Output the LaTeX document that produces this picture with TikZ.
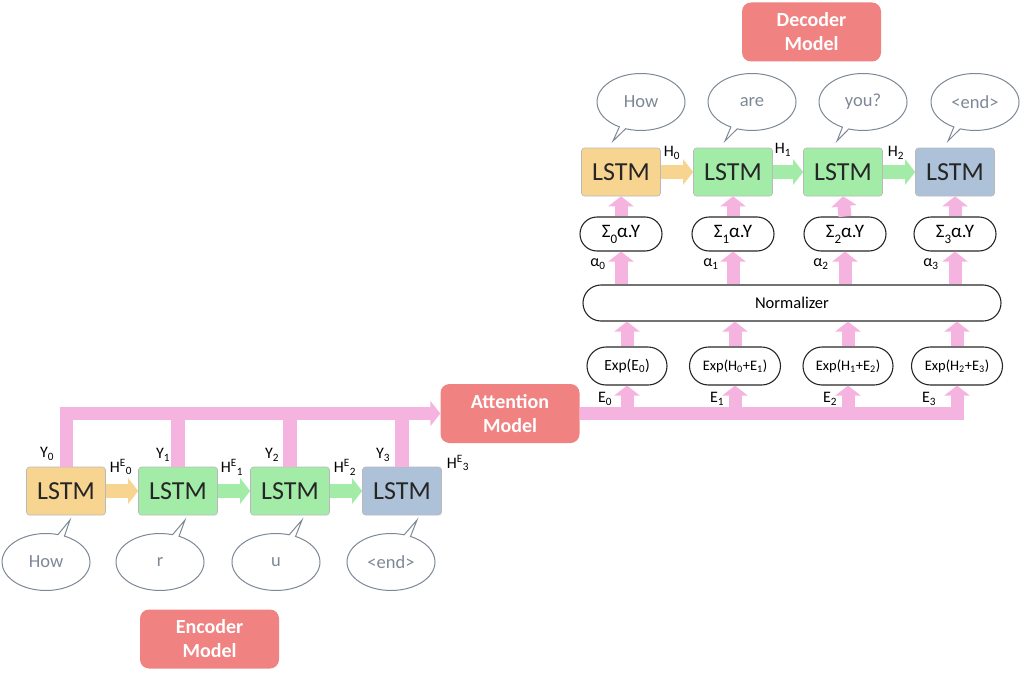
\documentclass[tikz,border=0pt]{standalone}
\usepackage{fontspec}
\setmainfont{Carlito}
\usetikzlibrary{arrows.meta,shapes.misc,shapes.callouts}
\definecolor{lstmorange}{RGB}{248,212,145}
\definecolor{lstmgreen}{RGB}{162,236,168}
\definecolor{lstmblue}{RGB}{173,194,216}
\definecolor{flowpink}{RGB}{245,180,224}
\definecolor{modelred}{RGB}{240,130,130}
\definecolor{bubblegray}{RGB}{125,136,150}
\newcommand{\sumsub}[1]{Σ\raisebox{-0.32em}{\fontsize{13}{13}\selectfont #1}α.Y}
\tikzset{
  lstm/.style={draw=gray!55, line width=0.6pt, rounded corners=3pt, minimum width=79pt, minimum height=48pt, inner sep=0pt, font=\fontsize{26}{26}\selectfont, text=black!85},
  model/.style={fill=modelred, rounded corners=9pt, minimum width=139pt, minimum height=59pt, inner sep=0pt, text=white, align=center, font=\fontsize{20}{24}\selectfont\bfseries},
  bubble/.style={ellipse callout, draw=bubblegray, line width=1pt, callout pointer arc=9, minimum width=88pt, minimum height=57pt, inner sep=0pt, text=bubblegray, font=\fontsize{18.5}{18.5}\selectfont},
  calc/.style={rounded rectangle, draw=black!85, line width=1.1pt, minimum height=36pt, inner sep=0pt},
  flow/.style={draw=flowpink, line width=13pt, -{Triangle[width=25pt,length=10pt]}},
  stem/.style={draw=flowpink, line width=14pt},
  pass/.style={line width=14pt, -{Triangle[width=25pt,length=10pt]}},
  lbl/.style={inner sep=0pt, font=\fontsize{16}{16}\selectfont}
}
\begin{document}
\begin{tikzpicture}[x=1pt,y=-1pt]
\useasboundingbox (0,0) rectangle (1022,677);

\node[model] (att) at (510,413.5) {Attention\\Model};
\node[model] (decm) at (811.5,32) {Decoder\\Model};
\node[model] (encm) at (209.5,639) {Encoder\\Model};

\node[lstm, fill=lstmorange] (enc0) at (66,491) {LSTM};
\node[lstm, fill=lstmgreen] (enc1) at (178,491) {LSTM};
\node[lstm, fill=lstmgreen] (enc2) at (290,491) {LSTM};
\node[lstm, fill=lstmblue] (enc3) at (402,491) {LSTM};

\node[lstm, fill=lstmorange] (dec0) at (621,172) {LSTM};
\node[lstm, fill=lstmgreen] (dec1) at (733,172) {LSTM};
\node[lstm, fill=lstmgreen] (dec2) at (843,172) {LSTM};
\node[lstm, fill=lstmblue] (dec3) at (955,172) {LSTM};

\node[bubble, callout absolute pointer={(70,520)}] (win0) at (46,562) {How};
\node[bubble, callout absolute pointer={(185,520)}] (win1) at (160,562) {r};
\node[bubble, callout absolute pointer={(302,520)}] (win2) at (276,562) {u};
\node[bubble, callout absolute pointer={(417,520)}] (win3) at (391,562) {<end>};

\node[bubble, callout absolute pointer={(613,141)}] (wout0) at (641,102) {How};
\node[bubble, callout absolute pointer={(725,141)}] (wout1) at (752,102) {are};
\node[bubble, callout absolute pointer={(837,141)}] (wout2) at (863,102) {you?};
\node[bubble, callout absolute pointer={(948,141)}] (wout3) at (975,102) {<end>};

\node[calc, minimum width=82pt, minimum height=34pt, font=\fontsize{19}{19}\selectfont] (sum0) at (621,234) {\sumsub{0}};
\node[calc, minimum width=82pt, minimum height=34pt, font=\fontsize{19}{19}\selectfont] (sum1) at (733,234) {\sumsub{1}};
\node[calc, minimum width=82pt, minimum height=34pt, font=\fontsize{19}{19}\selectfont] (sum2) at (845,234) {\sumsub{2}};
\node[calc, minimum width=82pt, minimum height=34pt, font=\fontsize{19}{19}\selectfont] (sum3) at (955,234) {\sumsub{3}};

\node[calc, minimum width=418pt, font=\fontsize{16.5}{16.5}\selectfont] (norm) at (792,303) {Normalizer};

\node[calc, minimum width=80pt, minimum height=38pt, font=\fontsize{15.5}{15.5}\selectfont] (exp0) at (627,366) {Exp(E\textsubscript{0})};
\node[calc, minimum width=91pt, minimum height=38pt, font=\fontsize{14.5}{14.5}\selectfont] (exp1) at (735,366) {Exp(H\textsubscript{0}+E\textsubscript{1})};
\node[calc, minimum width=90pt, minimum height=38pt, font=\fontsize{14.5}{14.5}\selectfont] (exp2) at (848,366) {Exp(H\textsubscript{1}+E\textsubscript{2})};
\node[calc, minimum width=91pt, minimum height=38pt, font=\fontsize{14.5}{14.5}\selectfont] (exp3) at (957,366) {Exp(H\textsubscript{2}+E\textsubscript{3})};

\draw[pass, draw=lstmorange] (enc0.east) -- (enc1.west);
\draw[pass, draw=lstmgreen] (enc1.east) -- (enc2.west);
\draw[pass, draw=lstmgreen] (enc2.east) -- (enc3.west);
\draw[pass, draw=lstmorange] (dec0.east) -- (dec1.west);
\draw[pass, draw=lstmgreen] (dec1.east) -- (dec2.west);
\draw[pass, draw=lstmgreen] (dec2.east) -- (dec3.west);

\draw[stem] (enc1.north) -- (enc1.north |- att.west);
\draw[stem] (enc2.north) -- (enc2.north |- att.west);
\draw[stem] (enc3.north) -- (enc3.north |- att.west);
\draw[flow, line join=miter] (enc0.north) -- (enc0.north |- att.west) -- (att.west);

\draw[flow, line join=miter] (att.east) -- (att.east -| exp3.south) -- (exp3.south);
\draw[flow] (att.east -| exp0.south) -- (exp0.south);
\draw[flow] (att.east -| exp1.south) -- (exp1.south);
\draw[flow] (att.east -| exp2.south) -- (exp2.south);

\draw[flow] (exp0.north) -- (exp0.north |- norm.south);
\draw[flow] (exp1.north) -- (exp1.north |- norm.south);
\draw[flow] (exp2.north) -- (exp2.north |- norm.south);
\draw[flow] (exp3.north) -- (exp3.north |- norm.south);

\draw[flow] (sum0.south |- norm.north) -- (sum0.south);
\draw[flow] (sum1.south |- norm.north) -- (sum1.south);
\draw[flow] (sum2.south |- norm.north) -- (sum2.south);
\draw[flow] (sum3.south |- norm.north) -- (sum3.south);

\draw[flow] (sum0.north) -- (dec0.south);
\draw[flow] (sum1.north) -- (dec1.south);
\draw[flow] (sum2.north) -- (dec2.south);
\draw[flow] (sum3.north) -- (dec3.south);

\node[lbl] (y0) at (47,454) {Y\textsubscript{0}};
\node[lbl] (y1) at (163,455) {Y\textsubscript{1}};
\node[lbl] (y2) at (272,455) {Y\textsubscript{2}};
\node[lbl] (y3) at (383,455) {Y\textsubscript{3}};
\node[lbl] (he0) at (121,467) {H\textsuperscript{E}\textsubscript{0}};
\node[lbl] (he1) at (232,467) {H\textsuperscript{E}\textsubscript{1}};
\node[lbl] (he2) at (345,467) {H\textsuperscript{E}\textsubscript{2}};
\node[lbl] (he3) at (458,463) {H\textsuperscript{E}\textsubscript{3}};
\node[lbl] (h0) at (672,153) {H\textsubscript{0}};
\node[lbl] (h1) at (783,150) {H\textsubscript{1}};
\node[lbl] (h2) at (896,153) {H\textsubscript{2}};
\node[lbl] (a0) at (598,264) {α\textsubscript{0}};
\node[lbl] (a1) at (711,264) {α\textsubscript{1}};
\node[lbl] (a2) at (821,264) {α\textsubscript{2}};
\node[lbl] (a3) at (931,264) {α\textsubscript{3}};
\node[lbl] (e0) at (605,399) {E\textsubscript{0}};
\node[lbl] (e1) at (717,399) {E\textsubscript{1}};
\node[lbl] (e2) at (830,399) {E\textsubscript{2}};
\node[lbl] (e3) at (929,399) {E\textsubscript{3}};
\end{tikzpicture}
\end{document}
